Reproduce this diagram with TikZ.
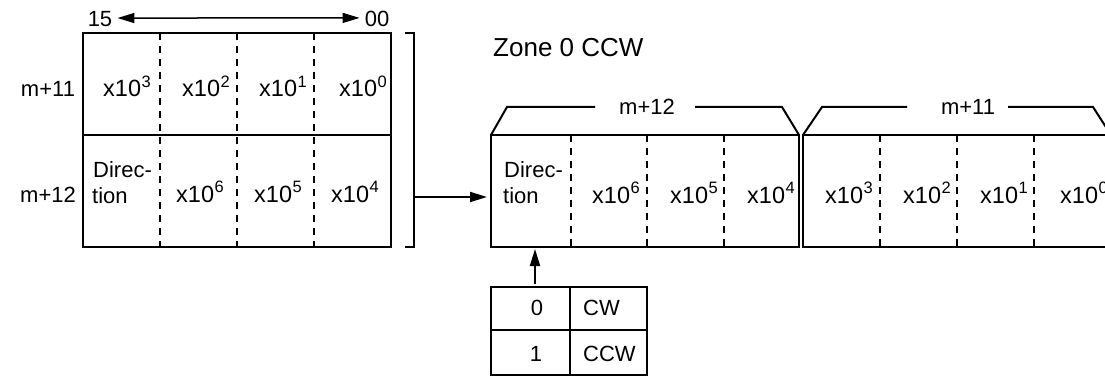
\documentclass[tikz,border=0pt]{standalone}
\usepackage{fontspec}
\setmainfont{Liberation Sans}
\usetikzlibrary{arrows.meta}
\tikzset{
  frame/.style={line width=2pt},
  divider/.style={line width=2pt, dash pattern=on 7pt off 6pt},
  arrow/.style={line width=2pt, -{Triangle[length=17pt, width=10pt]}},
  dblarrow/.style={line width=1.5pt, {Triangle[length=17pt, width=10pt]}-{Triangle[length=17pt, width=10pt]}, shorten <=5pt, shorten >=5pt},
  txt/.style={font=\fontsize{22}{26}\selectfont, inner sep=0pt, anchor=base},
  zone/.style={font=\fontsize{26}{30}\selectfont, inner sep=0pt, anchor=base west}
}
\newcommand{\pw}[1]{{\fontsize{23.5}{26}\selectfont x10}\kern0.5pt\raisebox{9.5pt}{\fontsize{16.5}{16}\selectfont #1}}

\begin{document}
\begin{tikzpicture}[x=1pt, y=-1pt]
  \useasboundingbox (0,0) rectangle (1105,377);
  % source words m+11, m+12
  \draw[frame] (83,33) rectangle (391,247);
  \draw[frame] (83,135) -- (391,135);
  \foreach \x in {160,237,314} \draw[divider] (\x,33) -- (\x,247);
  \node[txt] (bit15) at (100,27) {15};
  \node[txt] (bit00) at (377,27) {00};
  \draw[dblarrow] ([yshift=1.5pt]bit15.east) -- ([yshift=1.5pt]bit00.west);
  \node[txt] (m11) at (48,97) {m+11};
  \node[txt] (m12) at (48,202) {m+12};
  \foreach \x/\e in {127/3,206/2,283/1,363/0} \node[txt] (a\e) at (\x,97) {\pw{\e}};
  \foreach \x/\e in {200/6,278/5,355/4} \node[txt] (a\e) at (\x,202) {\pw{\e}};
  \node[txt, anchor=base west] (adir1) at (93,177) {Direc-};
  \node[txt, anchor=base west] (adir2) at (92,203) {tion};
  \draw[frame] (405,33) -- (414,33) -- (414,247) -- (405,247);
  \coordinate (brk) at (414,197);
  \coordinate (entry) at (487,197);
  \draw[arrow] (brk) -- (entry);
  % Zone 0 CCW
  \node[zone] (zone) at (493,57) {Zone 0 CCW};
  \draw[frame] (491,135) rectangle (799,247);
  \draw[frame] (595,107) -- (507,107) -- (491,135);
  \draw[frame] (695,107) -- (782,107) -- (799,135);
  \node[txt] (w12) at (647,115) {m+12};
  \foreach \x in {571,647,724} \draw[divider] (\x,135) -- (\x,247);
  \node[txt, anchor=base west] (bdir1) at (504,177) {Direc-};
  \node[txt, anchor=base west] (bdir2) at (503,203) {tion};
  \foreach \x/\e in {616/6,694/5,771/4} \node[txt] (b\e) at (\x,203) {\pw{\e}};
  \draw[frame] (803,135) rectangle (1111,247);
  \draw[frame] (907,107) -- (822,107) -- (803,135);
  \draw[frame] (1008,107) -- (1093,107) -- (1111,135);
  \node[txt] (w11) at (968,115) {m+11};
  \foreach \x in {880,957,1034} \draw[divider] (\x,135) -- (\x,247);
  \foreach \x/\e in {849/3,927/2,1004/1,1084/0} \node[txt] (c\e) at (\x,203) {\pw{\e}};
  % direction bit
  \draw[frame] (491,287) rectangle (647,375);
  \draw[frame] (491,330) -- (647,330);
  \draw[frame] (570,287) -- (570,375);
  \node[txt] (v0) at (537,315) {0};
  \node[txt] (v1) at (536,361) {1};
  \node[txt, anchor=base west] (cw) at (583,315) {CW};
  \node[txt, anchor=base west] (ccw) at (583,361) {CCW};
  \coordinate (sel) at (535,284);
  \coordinate (dirbit) at (535,249);
  \draw[arrow] (sel) -- (dirbit);
\end{tikzpicture}
\end{document}
